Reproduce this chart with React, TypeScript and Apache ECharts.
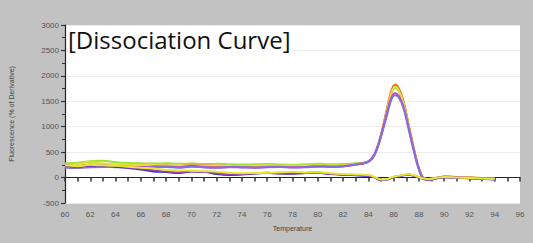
import React, { useEffect, useRef } from "react";
import * as echarts from "echarts";

const temps = [60, 61, 62, 63, 64, 65, 66, 67, 68, 69, 70, 71, 72, 73, 74, 75, 76, 77, 78, 79, 80, 81, 82, 83, 84, 84.5, 85, 85.5, 85.8, 86.1, 86.4, 86.8, 87.2, 87.6, 88, 88.4, 88.8, 89.5, 90, 91, 92, 93, 94];

const orangeVals = [250, 240, 260, 255, 245, 240, 235, 240, 235, 230, 235, 225, 230, 225, 220, 225, 230, 225, 220, 225, 240, 230, 235, 260, 310, 460, 840, 1380, 1690, 1830, 1760, 1480, 1030, 570, 190, -20, -40, -10, 20, 10, 0, -10, -20];
const yellowPeakVals = [230, 260, 300, 280, 260, 250, 245, 250, 240, 235, 240, 235, 240, 230, 225, 230, 240, 235, 230, 235, 245, 240, 240, 265, 315, 450, 820, 1350, 1650, 1790, 1720, 1450, 1000, 560, 180, -20, -30, 0, 15, 5, -5, -15, -25];
const magentaVals = [210, 200, 215, 220, 215, 210, 205, 215, 220, 205, 230, 210, 200, 210, 205, 200, 210, 215, 205, 210, 225, 220, 225, 255, 320, 470, 830, 1300, 1560, 1660, 1610, 1380, 960, 540, 170, -30, -40, -10, 15, 5, -5, -10, -20];
const violetVals = [200, 190, 205, 210, 205, 200, 195, 205, 210, 195, 215, 200, 195, 205, 200, 195, 205, 210, 200, 205, 215, 210, 220, 250, 310, 450, 800, 1250, 1520, 1620, 1580, 1350, 940, 520, 160, -30, -40, -10, 10, 0, -10, -15, -30];
const greenVals = [280, 290, 320, 330, 300, 285, 280, 275, 280, 270, 275, 265, 270, 260, 255, 260, 265, 255, 250, 260, 270, 260, 265, 280, 320, 450, 820, 1340, 1630, 1760, 1700, 1430, 990, 550, 180, -20, -30, 0, 20, 10, 0, -10, -20];
const redVals = [220, 210, 230, 235, 230, 225, 220, 230, 235, 225, 250, 240, 235, 230, 210, 215, 225, 230, 215, 220, 235, 225, 230, 260, 315, 460, 830, 1370, 1670, 1810, 1740, 1460, 1010, 560, 185, -20, -40, -10, 15, 5, -5, -15, -25];
const yellowFlatVals = [240, 225, 250, 240, 230, 215, 195, 180, 150, 140, 135, 125, 115, 95, 85, 90, 95, 105, 115, 100, 105, 85, 70, 60, 50, 10, -40, -30, 0, 20, 35, 55, 65, 45, 10, -20, -30, 0, 10, 0, -10, -20, -30];
const blueFlatVals = [230, 215, 235, 230, 215, 190, 160, 120, 110, 90, 120, 115, 70, 50, 60, 80, 95, 80, 75, 90, 95, 70, 55, 45, 35, 0, -55, -40, -10, 10, 25, 45, 55, 35, 0, -25, -35, -5, 5, -5, -15, -25, -40];
const purpleFlatVals = [235, 220, 240, 235, 225, 200, 175, 140, 120, 100, 125, 118, 85, 60, 70, 85, 90, 85, 80, 92, 100, 75, 60, 50, 40, 5, -50, -35, -5, 15, 30, 50, 60, 40, 5, -22, -32, -3, 8, -3, -12, -22, -35];

const xTicks = [60, 96, 2];
const yTicks = [-500, 3000, 500];

const seriesDefs: [string, number[]][] = [
  ["#f08a20", orangeVals],
  ["#a0e030", greenVals],
  ["#e8454a", redVals],
  ["#e0e040", yellowPeakVals],
  ["#d040c0", magentaVals],
  ["#8070e0", violetVals],
  ["#2a2ad0", blueFlatVals],
  ["#9040c0", purpleFlatVals],
  ["#e8e830", yellowFlatVals],
];

export default function App() {
  const ref = useRef<HTMLDivElement>(null);
  useEffect(() => {
    if (!ref.current) return;
    const chart = echarts.init(ref.current, null, { renderer: "svg" });
    const tickLabel = { color: "#555", fontSize: 8, fontFamily: "Liberation Sans, Arial, sans-serif" };
    chart.setOption({
      animation: false,
      backgroundColor: "#c2c2c2",
      grid: { left: 65, right: 13, top: 25, bottom: 40, show: true, backgroundColor: "#ffffff", borderWidth: 0 },
      graphic: [
        {
          type: "text",
          left: 68,
          top: 26,
          z: 100,
          style: {
            text: "[Dissociation Curve]",
            fontSize: 24,
            fontFamily: "Open Sans, Noto Sans, sans-serif",
            fill: "#111",
            backgroundColor: "#ffffff",
            padding: [1, 2, 1, 0],
          },
        },
      ],
      xAxis: {
        type: "value",
        min: xTicks[0],
        max: xTicks[1],
        interval: xTicks[2],
        name: "Temperature",
        nameLocation: "middle",
        nameGap: 22,
        nameTextStyle: { color: "#444", fontSize: 7, fontFamily: "Liberation Sans, Arial, sans-serif" },
        axisLine: { lineStyle: { color: "#222", width: 1.2 } },
        axisTick: { show: true, length: 4, lineStyle: { color: "#333", width: 1.5 } },
        minorTick: { show: true, splitNumber: 2, length: 4, lineStyle: { color: "#333", width: 1.5 } },
        axisLabel: { ...tickLabel, margin: 7 },
        splitLine: { show: false },
      },
      yAxis: {
        type: "value",
        min: yTicks[0],
        max: yTicks[1],
        interval: yTicks[2],
        name: "Fluorescence (% of Derivative)",
        nameLocation: "middle",
        nameGap: 50,
        nameTextStyle: { color: "#444", fontSize: 7, fontFamily: "Liberation Sans, Arial, sans-serif" },
        axisLine: { show: true, lineStyle: { color: "#222", width: 1.2 } },
        axisTick: { show: true, length: 4, lineStyle: { color: "#333", width: 1.2 } },
        minorTick: { show: true, splitNumber: 2, length: 3, lineStyle: { color: "#333", width: 1 } },
        axisLabel: { ...tickLabel, margin: 6, formatter: (v: number) => String(v) },
        splitLine: { show: true, lineStyle: { color: "#ececec", width: 1 } },
      },
      series: seriesDefs.map(([color, vals]) => ({
        type: "line",
        data: temps.map((t, i) => [t, vals[i]]),
        showSymbol: false,
        smooth: 0.35,
        lineStyle: { color, width: 2 },
        itemStyle: { color },
      })),
    });
    return () => chart.dispose();
  }, []);
  return <div ref={ref} style={{ width: 533, height: 243, position: "absolute", left: 0, top: 0 }} />;
}
